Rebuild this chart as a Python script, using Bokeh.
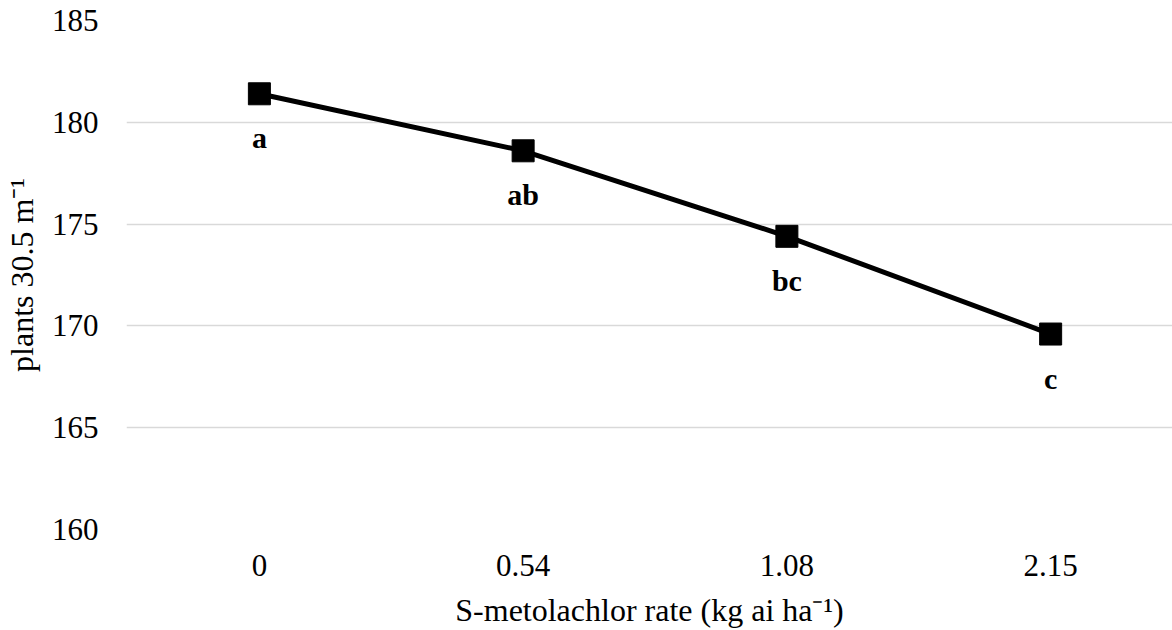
from bokeh.plotting import figure
from bokeh.models import Range1d, FixedTicker, ColumnDataSource
from bokeh.core.properties import value
from bokeh.embed import file_html
from bokeh.resources import INLINE

rates = ["0", "0.54", "1.08", "2.15"]
plants = [181.4, 178.6, 174.4, 169.6]
letters = ["a", "ab", "bc", "c"]
y_ticks = [160, 165, 170, 175, 180, 185]
x_title = "S-metolachlor rate (kg ai ha\u207b\u00b9)"
y_title = "plants 30.5 m\u207b\u00b9"

xs = list(range(len(rates)))
src = ColumnDataSource(dict(x=xs, y=plants, t=letters))

FONT = "Liberation Serif"

p = figure(width=1172, height=630, output_backend="svg", toolbar_location=None,
           x_range=Range1d(-0.5038, 3.462), y_range=Range1d(160, 185),
           min_border_left=125, min_border_right=0, min_border_top=20,
           min_border_bottom=101)
p.outline_line_color = None
p.background_fill_color = "white"
p.border_fill_color = "white"

p.line("x", "y", source=src, line_width=5, line_color="black")
p.scatter("x", "y", source=src, marker="square", size=22,
          fill_color="black", line_color="black")
p.text("x", "y", text="t", source=src, text_font=value(FONT),
       text_font_style="bold", text_font_size="30px", text_align="center",
       text_baseline="alphabetic", y_offset=44, text_color="black")

p.xaxis.ticker = FixedTicker(ticks=xs)
p.xaxis.major_label_overrides = {i: r for i, r in zip(xs, rates)}
p.yaxis.ticker = FixedTicker(ticks=y_ticks)

p.axis.axis_line_color = None
p.axis.major_tick_line_color = None
p.axis.minor_tick_line_color = None
p.axis.major_tick_out = 0
p.axis.major_tick_in = 0
p.axis.minor_tick_out = 0
p.axis.major_label_text_font = FONT
p.axis.major_label_text_font_size = "31px"
p.axis.major_label_text_color = "black"
p.axis.axis_label_text_font = FONT
p.axis.axis_label_text_font_size = "32px"
p.axis.axis_label_text_font_style = "normal"
p.axis.axis_label_text_color = "black"

p.xaxis.axis_label = x_title
p.yaxis.axis_label = y_title
p.xaxis.major_label_standoff = 25
p.xaxis.axis_label_standoff = 13
p.yaxis.major_label_standoff = 28
p.yaxis.axis_label_standoff = 9

p.xgrid.grid_line_color = None
p.ygrid.grid_line_color = "#d9d9d9"
p.ygrid.grid_line_width = 1.5

open("out.html", "w").write(file_html(p, INLINE))
